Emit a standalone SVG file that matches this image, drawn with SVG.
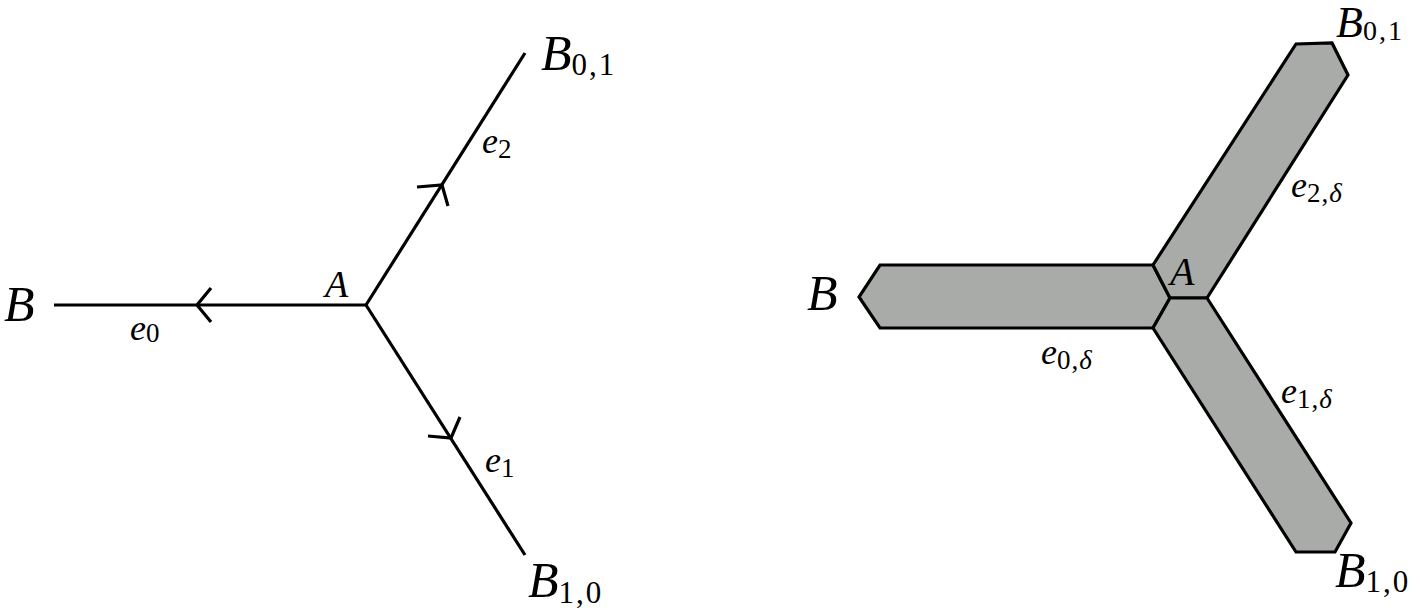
<svg xmlns="http://www.w3.org/2000/svg" width="1420" height="612" viewBox="0 0 1420 612">
<style>
  .lbl { font-family: "Liberation Serif", "DejaVu Serif", serif; font-style: italic; fill: #000; }
  .big { font-size: 50px; }
  .mid { font-size: 38px; }
  .el { font-size: 36px; }
  .sub { font-style: normal; }
  .sub-b { font-size: 31px; letter-spacing: 2px; }
  .sub-e { font-size: 27px; letter-spacing: 1px; }
  .it { font-style: italic; }
  .edge { stroke: #000; stroke-width: 3.2; fill: none; stroke-linecap: butt; }
  .chev { stroke: #000; stroke-width: 3.2; fill: none; stroke-linejoin: miter; }
  .strip { fill: #a9aba9; stroke: #000; stroke-width: 3.2; stroke-linejoin: miter; }
</style>
<rect width="1420" height="612" fill="#fff"/>

<!-- Left panel: graph -->
<g id="connectors">
  <line class="edge" x1="54" y1="305" x2="366" y2="305"/>
  <line class="edge" x1="366" y1="305" x2="525" y2="53"/>
  <line class="edge" x1="366" y1="305" x2="525" y2="555"/>
  <polyline class="chev" points="211,288 197,305 211,322"/>
  <polyline class="chev" points="417,187 442,185 448,206"/>
  <polyline class="chev" points="428,436 451,438 460,417"/>
  <text class="lbl el" x="130" y="340">e<tspan class="sub sub-e" dy="2">0</tspan></text>
  <text class="lbl el" x="482" y="153">e<tspan class="sub sub-e" dy="5">2</tspan></text>
  <text class="lbl el" x="485" y="472">e<tspan class="sub sub-e" dy="5">1</tspan></text>
</g>
<g id="node-B">
  <text class="lbl big" x="4" y="321">B</text>
</g>
<g id="node-A">
  <text class="lbl mid" x="325" y="297">A</text>
</g>
<g id="node-B01">
  <text class="lbl big" x="541" y="70">B<tspan class="sub sub-b" dy="5">0,1</tspan></text>
</g>
<g id="node-B10">
  <text class="lbl big" x="528" y="597">B<tspan class="sub sub-b" dy="6">1,0</tspan></text>
</g>

<!-- Right panel: thickened graph -->
<g id="strip-e0">
  <polygon class="strip" points="880,265 1153,265 1170,298 1153,328 880,328 859,297"/>
  <text class="lbl el" x="1041" y="364">e<tspan class="sub sub-e" dy="5">0,</tspan><tspan class="it sub-e">δ</tspan></text>
</g>
<g id="strip-e2">
  <polygon class="strip" points="1153,265 1296,44 1332,43 1348,75 1207,298 1170,298"/>
  <text class="lbl el" x="1291" y="197">e<tspan class="sub sub-e" dy="5">2,</tspan><tspan class="it sub-e">δ</tspan></text>
</g>
<g id="strip-e1">
  <polygon class="strip" points="1153,328 1170,298 1207,298 1351,523 1335,552 1296,552"/>
  <text class="lbl el" x="1281" y="403">e<tspan class="sub sub-e" dy="5">1,</tspan><tspan class="it sub-e">δ</tspan></text>
</g>
<g id="node-B-right">
  <text class="lbl big" x="807" y="310">B</text>
</g>
<g id="node-A-right">
  <text class="lbl" style="font-size:40px" x="1170" y="285">A</text>
</g>
<g id="node-B01-right">
  <text class="lbl" style="font-size:44px" x="1336" y="37">B<tspan class="sub" style="font-size:28px;letter-spacing:2px" dy="3">0,1</tspan></text>
</g>
<g id="node-B10-right">
  <text class="lbl big" x="1335" y="587">B<tspan class="sub sub-b" dy="5">1,0</tspan></text>
</g>
</svg>
